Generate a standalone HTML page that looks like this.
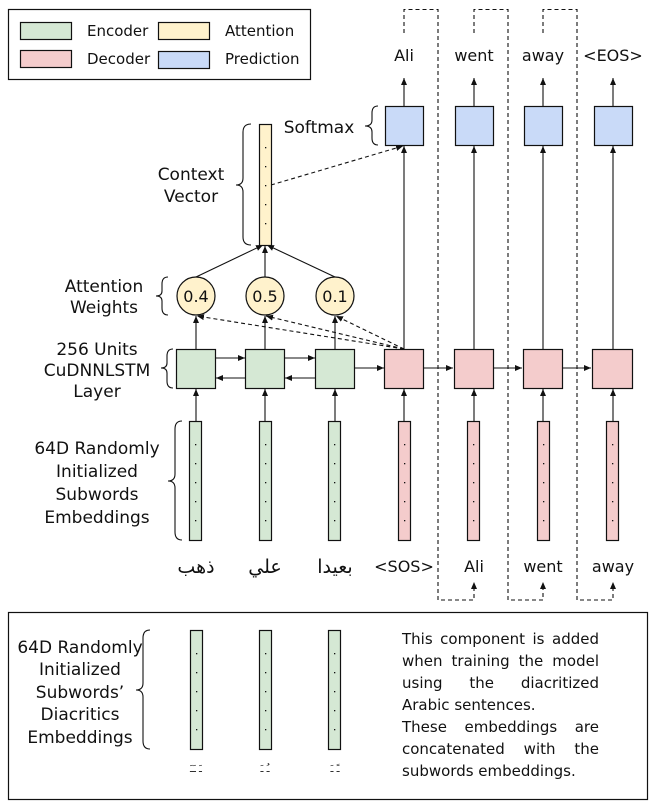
<!DOCTYPE html>
<html><head><meta charset="utf-8"><style>
html,body{margin:0;padding:0;background:#fff;width:655px;height:809px;overflow:hidden}
svg{position:absolute;left:0;top:0}
text{font-family:"DejaVu Sans","Liberation Sans","Noto Sans CJK SC",sans-serif;fill:#111}
.note{position:absolute;left:402px;top:628px;width:197px;font:15px/22px "DejaVu Sans","Liberation Sans",sans-serif;color:#111;text-align:justify;text-align-last:left}
</style></head><body>
<svg width="655" height="809" viewBox="0 0 655 809">
<defs>
<marker id="a" markerWidth="8" markerHeight="8" refX="7" refY="4" orient="auto" markerUnits="userSpaceOnUse"><path d="M0,1 L7,4 L0,7 z" fill="#111"/></marker>
<g id="dcol" fill="#111"><rect x="0" y="0" width="1.3" height="1.3"/><rect x="0" y="19" width="1.3" height="1.3"/><rect x="0" y="38" width="1.3" height="1.3"/><rect x="0" y="57" width="1.3" height="1.3"/><rect x="0" y="76" width="1.3" height="1.3"/></g>
</defs>
<g fill="none" stroke="#111" stroke-width="1.2">
<rect x="8.5" y="9.5" width="302" height="70"/>
<rect x="20.5" y="22.5" width="51" height="17" fill="#d5e8d4"/>
<rect x="158.5" y="22.5" width="51" height="17" fill="#fff2cc"/>
<rect x="20.5" y="50.5" width="51" height="17" fill="#f4cccc"/>
<rect x="158.5" y="51.5" width="51" height="17" fill="#c9daf8"/>
<rect x="8.5" y="612.5" width="639" height="187"/>
</g>
<g font-size="15">
<text x="87" y="36">Encoder</text><text x="225" y="36">Attention</text>
<text x="87" y="64">Decoder</text><text x="225" y="64">Prediction</text>
</g>
<g fill="none" stroke="#111" stroke-width="1.1">
<path d="M404,33 V9.5 H438 V600 H474 V588" stroke-dasharray="4,3"/>
<path d="M474,33 V9.5 H508 V600 H543 V588" stroke-dasharray="4,3"/>
<path d="M543,33 V9.5 H577 V600 H613 V588" stroke-dasharray="4,3"/>
</g>
<g fill="#111"><path d="M471,589 L474,582 L477,589z"/><path d="M540,589 L543,582 L546,589z"/><path d="M610,589 L613,582 L616,589z"/></g>
<g stroke="#111" stroke-width="1.1" fill="none" marker-end="url(#a)">
<line x1="404" y1="106" x2="404" y2="78"/><line x1="474" y1="106" x2="474" y2="78"/>
<line x1="543" y1="106" x2="543" y2="78"/><line x1="613" y1="106" x2="613" y2="78"/>
<line x1="404" y1="349" x2="404" y2="146"/><line x1="474" y1="349" x2="474" y2="146"/>
<line x1="543" y1="349" x2="543" y2="146"/><line x1="613" y1="349" x2="613" y2="146"/>
<line x1="196" y1="421" x2="196" y2="389"/><line x1="265" y1="421" x2="265" y2="389"/>
<line x1="335" y1="421" x2="335" y2="389"/><line x1="404" y1="421" x2="404" y2="389"/>
<line x1="474" y1="421" x2="474" y2="389"/><line x1="543" y1="421" x2="543" y2="389"/>
<line x1="613" y1="421" x2="613" y2="389"/>
<line x1="196" y1="349" x2="196" y2="316"/><line x1="265" y1="349" x2="265" y2="316"/><line x1="335" y1="349" x2="335" y2="316"/>
<line x1="196" y1="277" x2="263" y2="245"/><line x1="265" y1="277" x2="265" y2="246"/><line x1="335" y1="277" x2="267" y2="245"/>
<line x1="215" y1="358" x2="245" y2="358"/><line x1="284" y1="358" x2="315" y2="358"/>
<line x1="245" y1="378" x2="216" y2="378"/><line x1="315" y1="378" x2="285" y2="378"/>
<line x1="354" y1="368" x2="384" y2="368"/><line x1="423" y1="368" x2="453" y2="368"/>
<line x1="493" y1="368" x2="522" y2="368"/><line x1="562" y1="368" x2="591" y2="368"/>
<line x1="404" y1="349" x2="197" y2="316" stroke-dasharray="4,3"/>
<line x1="404" y1="349" x2="266" y2="316" stroke-dasharray="4,3"/>
<line x1="404" y1="349" x2="336" y2="316" stroke-dasharray="4,3"/>
<line x1="271" y1="185" x2="403" y2="146" stroke-dasharray="4,3"/>
</g>
<g stroke="#111" stroke-width="1.2">
<rect x="385.5" y="106.5" width="38" height="39" fill="#c9daf8"/>
<rect x="455.5" y="106.5" width="38" height="39" fill="#c9daf8"/>
<rect x="524.5" y="106.5" width="38" height="39" fill="#c9daf8"/>
<rect x="594.5" y="106.5" width="38" height="39" fill="#c9daf8"/>
<rect x="259.5" y="124.5" width="12" height="121" fill="#fff2cc"/>
<circle cx="196" cy="296" r="19" fill="#fff2cc"/><circle cx="265" cy="296" r="19" fill="#fff2cc"/><circle cx="335" cy="296" r="19" fill="#fff2cc"/>
<rect x="176.5" y="349.5" width="39" height="39" fill="#d5e8d4"/>
<rect x="245.5" y="349.5" width="39" height="39" fill="#d5e8d4"/>
<rect x="315.5" y="349.5" width="39" height="39" fill="#d5e8d4"/>
<rect x="384.5" y="349.5" width="39" height="39" fill="#f4cccc"/>
<rect x="454.5" y="349.5" width="39" height="39" fill="#f4cccc"/>
<rect x="523.5" y="349.5" width="39" height="39" fill="#f4cccc"/>
<rect x="592.5" y="349.5" width="40" height="39" fill="#f4cccc"/>
<rect x="189.5" y="421.5" width="12" height="119" fill="#d5e8d4"/>
<rect x="259.5" y="421.5" width="12" height="119" fill="#d5e8d4"/>
<rect x="328.5" y="421.5" width="12" height="119" fill="#d5e8d4"/>
<rect x="398.5" y="421.5" width="12" height="119" fill="#f4cccc"/>
<rect x="467.5" y="421.5" width="12" height="119" fill="#f4cccc"/>
<rect x="537.5" y="421.5" width="12" height="119" fill="#f4cccc"/>
<rect x="606.5" y="421.5" width="12" height="119" fill="#f4cccc"/>
<rect x="190.5" y="630.5" width="12" height="119" fill="#d5e8d4"/>
<rect x="259.5" y="630.5" width="12" height="119" fill="#d5e8d4"/>
<rect x="328.5" y="630.5" width="12" height="119" fill="#d5e8d4"/>
</g>
<use href="#dcol" transform="translate(265,147)"/>
<use href="#dcol" transform="translate(195,444)"/><use href="#dcol" transform="translate(265,444)"/>
<use href="#dcol" transform="translate(334,444)"/><use href="#dcol" transform="translate(404,444)"/>
<use href="#dcol" transform="translate(473,444)"/><use href="#dcol" transform="translate(543,444)"/>
<use href="#dcol" transform="translate(612,444)"/>
<use href="#dcol" transform="translate(196,653)"/><use href="#dcol" transform="translate(265,653)"/><use href="#dcol" transform="translate(334,653)"/>
<g fill="none" stroke="#111" stroke-width="1.1">
<path d="M251,124 Q243,124 243,132 V178 Q243,185 236,185 Q243,185 243,192 V237 Q243,245 251,245"/>
<path d="M168,277 Q162,277 162,284 V291 Q162,296 156,296 Q162,296 162,301 V308 Q162,315 168,315"/>
<path d="M173,349 Q167,349 167,356 V363 Q167,368 161,368 Q167,368 167,373 V381 Q167,388 173,388"/>
<path d="M182,421 Q175,421 175,429 V474 Q175,481 168,481 Q175,481 175,488 V532 Q175,540 182,540"/>
<path d="M378,106 Q372,106 372,113 V120 Q372,126 365,126 Q372,126 372,132 V138 Q372,145 378,145"/>
<path d="M150,630 Q143,630 143,638 V683 Q143,690 136,690 Q143,690 143,697 V741 Q143,749 150,749"/>
</g>
<g font-size="16" text-anchor="middle">
<text x="404" y="61">Ali</text><text x="474" y="61">went</text><text x="543" y="61">away</text><text x="613" y="61">&lt;EOS&gt;</text>
<text x="196" y="302">0.4</text><text x="265" y="302">0.5</text><text x="335" y="302">0.1</text>
<text x="404" y="572">&lt;SOS&gt;</text><text x="474" y="572">Ali</text><text x="543" y="572">went</text><text x="613" y="572">away</text>
</g>
<g font-size="17" text-anchor="middle">
<text x="319" y="133">Softmax</text>
<text x="191" y="180">Context</text><text x="191" y="202">Vector</text>
<text x="104" y="292">Attention</text><text x="104" y="313">Weights</text>
<text x="97" y="355">256 Units</text><text x="97" y="376">CuDNNLSTM</text><text x="97" y="397">Layer</text>
<text x="97" y="454">64D Randomly</text><text x="97" y="477">Initialized</text><text x="97" y="500">Subwords</text><text x="97" y="523">Embeddings</text>
<text x="196" y="573" font-size="19">ذهب</text><text x="265" y="573" font-size="19">علي</text><text x="335" y="573" font-size="19">بعيدا</text>
<text x="80" y="653">64D Randomly</text><text x="80" y="675">Initialized</text><text x="80" y="698">Subwords’</text><text x="80" y="720">Diacritics</text><text x="80" y="743">Embeddings</text>
</g>
<g font-size="10" text-anchor="middle" fill="#333">
<text x="196" y="772">ـَ ـَـَ</text><text x="265" y="772">ـُ ـَ</text><text x="335" y="772">ـً ـَ</text>
</g>
</svg>
<div class="note">This component is added when training the model using the diacritized Arabic sentences.<br>These embeddings are concatenated with the subwords embeddings.</div>
</body></html>
